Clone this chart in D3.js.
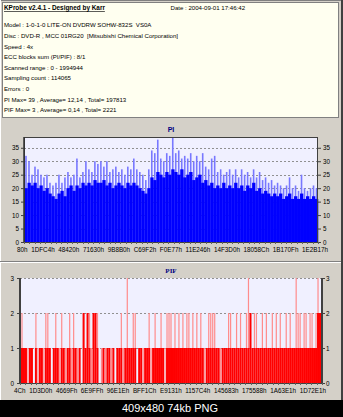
<!DOCTYPE html>
<html><head><meta charset="utf-8">
<script src="https://cdn.jsdelivr.net/npm/d3@7"></script>
<style>html,body{margin:0;padding:0;background:#000;overflow:hidden}svg{display:block}text{white-space:pre}</style>
</head><body>
<svg id="c" width="343" height="417"></svg>
<script>
// ---------------- DATA ----------------
const infoTitle = "KProbe v2.4.1 - Designed by Karr";
const infoDate = "Date : 2004-09-01 17:46:42";
const infoLines = [
  "Model : 1-0-1-0 LITE-ON DVDRW SOHW-832S  VS0A",
  "Disc : DVD-R , MCC 01RG20  [Mitsubishi Chemical Corporation]",
  "Speed : 4x",
  "ECC blocks sum (PI/PIF) : 8/1",
  "Scanned range : 0 - 1994944",
  "Sampling count : 114065",
  "Errors : 0",
  "PI Max= 39 , Average= 12,14 , Total= 197813",
  "PIF Max= 3 , Average= 0,14 , Total= 2221"
];
const caption = "409x480 74kb PNG";

const piTicks = [0, 5, 10, 15, 20, 25, 30, 35];
const piXLabels = ["80h","1DFC4h","48420h","71630h","9B8B0h","C69F2h","F0E77h","11E246h","14F3D0h","18058Ch","1B170Fh","1E2B17h"];
const piBase = [20,22,21,22,20,21,19,20,18,17,16,18,19,17,20,21,19,21,20,22,
                21,22,21,23,22,22,23,21,22,20,21,22,21,20,22,21,22,21,20,19,
                18,20,24,23,26,25,24,26,25,27,26,25,27,24,25,26,23,24,25,22,
                23,21,22,20,21,20,22,20,21,20,22,20,21,19,21,20,22,19,20,18,
                19,18,17,18,17,18,16,17,18,16,17,16,18,16,17,16,17,16];
const piPeak = [32,30,25,28,27,25,24,25,22,21,22,25,22,24,26,24,25,31,24,26,
                30,27,26,30,29,30,28,30,26,27,28,26,27,25,28,27,31,27,26,25,
                23,27,34,33,38,31,30,33,32,39,33,34,31,32,31,33,30,32,30,33,
                28,27,31,32,26,27,25,26,27,25,27,24,27,25,26,24,27,24,26,23,
                24,22,23,21,22,21,20,21,24,20,21,19,25,20,19,20,21,20];

const pifTicks = [0, 1, 2, 3];
const pifXLabels = ["4Ch","1D3D0h","4669Fh","6E9FFh","96E1Eh","BFF1Ch","E9131h","1157C4h","145683h","175588h","1A63E1h","1D72E1h"];
const pifBase = [1,1,1,0,1,1,0,1,0,1,1,0,1,1,1,0,1,1,1,0,
                 1,1,0,1,1,0,1,1,0,1,0,2,1,2,1,0,2,2,1,0,
                 0,1,0,1,1,0,1,0,1,1,1,0,1,1,1,1,1,1,0,1,
                 1,0,1,1,1,0,1,1,1,1,1,1,0,1,1,1,1,1,1,1,
                 1,1,1,1,1,1,1,1,1,1,1,1,0,1,1,1,1,1,1,1,
                 0,1,1,1,1,1,1,1,1,1,1,1,1,1,1,2,1,1,1,1,
                 1,1,1,1,1,1,1,1,1,1,1,1,1,1,1,1,1,1,1,1,
                 1,1,1,1,1,1,1,1,1,2,2];
const pifPeak = [2,1,1,1,1,1,0,2,1,1,1,1,2,2,1,0,1,2,1,1,
                 2,1,1,1,2,1,2,1,1,1,0,2,1,2,2,1,2,2,2,0,
                 1,1,1,1,1,1,1,0,1,1,2,1,1,3,1,1,2,2,0,1,
                 1,1,1,1,2,1,1,2,1,1,2,1,1,2,2,2,1,2,1,2,
                 1,2,1,2,2,1,2,1,2,1,2,1,1,1,2,2,2,2,1,1,
                 1,1,1,1,2,2,1,1,2,1,2,1,1,2,3,2,1,2,2,1,
                 1,2,1,2,1,1,2,1,2,1,2,1,1,2,1,2,1,1,3,2,
                 2,1,2,2,1,2,2,1,2,3,2];

// ---------------- LAYOUT ----------------
const W = 343, H = 417;
const font = "'Liberation Sans', Arial, sans-serif";
const svg = d3.select("#c");

// backgrounds
svg.append("rect").attr("x",0).attr("y",0).attr("width",W).attr("height",H).attr("fill","#000");
svg.append("rect").attr("x",0).attr("y",0).attr("width",341).attr("height",400).attr("fill","#D4D0C8");
svg.append("line").attr("x1",0).attr("x2",341).attr("y1",0.5).attr("y2",0.5).attr("stroke","#808080");
svg.append("line").attr("x1",0.5).attr("x2",0.5).attr("y1",0).attr("y2",400).attr("stroke","#FFFFFF");
svg.append("rect").attr("x",341).attr("y",0).attr("width",2).attr("height",400).attr("fill","#404040");

// info box
svg.append("rect").attr("x",2.5).attr("y",2.5).attr("width",336).attr("height",115)
  .attr("fill","#FFFFF0").attr("stroke","#808080");
svg.append("text").text(infoTitle).attr("x",4).attr("y",10.3)
  .attr("font-family",font).attr("font-size",6.4).attr("font-weight","bold")
  .attr("text-decoration","underline").attr("fill","#000");
svg.append("text").text(infoDate).attr("x",170.5).attr("y",10.3)
  .attr("font-family",font).attr("font-size",6.1).attr("fill","#000");
svg.selectAll("text.info").data(infoLines).join("text").attr("class","info")
  .text(d=>d).attr("x",4).attr("y",(d,i)=>27.3+i*10.6)
  .attr("font-family",font).attr("font-size",6.1).attr("fill","#000");

// separator
svg.append("line").attr("x1",0).attr("x2",341).attr("y1",261.5).attr("y2",261.5).attr("stroke","#808080");
svg.append("line").attr("x1",0).attr("x2",341).attr("y1",262.5).attr("y2",262.5).attr("stroke","#FFFFFF");

// caption
svg.append("text").text(caption).attr("x",170).attr("y",412).attr("text-anchor","middle")
  .attr("font-family",font).attr("font-size",11).attr("fill","#FFFFFF");

function styleAxis(g){
  g.select(".domain").remove();
  g.selectAll(".tick line").attr("stroke","#404040");
  g.selectAll(".tick text").attr("font-family",font).attr("font-size",6.3).attr("fill","#000");
}
// x labels laid out in a row with equal gaps between x0 and x1
function labelRow(g, labels, x0, x1, yy){
  const t = g.selectAll("text.xl").data(labels).join("text").attr("class","xl")
    .text(d=>d).attr("y",yy).attr("font-family",font).attr("font-size",6.3).attr("fill","#000");
  const w = t.nodes().map(n=>n.getComputedTextLength());
  const gap = (x1 - x0 - d3.sum(w)) / (labels.length - 1);
  let cx = x0;
  t.attr("x",(d,i)=>{ const v = cx; cx += w[i] + gap; return v; });
}

// ---------------- PI CHART ----------------
{
  const L = 24, R = 318, T = 137, B = 242;
  const x = d3.scaleLinear().domain([0, piBase.length]).range([L + 0.5, R]);
  const y = d3.scaleLinear().domain([0, 39]).range([B, T]);
  const g = svg.append("g");
  g.append("rect").attr("x",L).attr("y",T).attr("width",R-L).attr("height",B-T).attr("fill","#F0F0FF");
  g.selectAll("line.grid").data(piTicks.filter(v=>v>0)).join("line").attr("class","grid")
    .attr("x1",L).attr("x2",R).attr("y1",d=>Math.round(y(d))+0.5).attr("y2",d=>Math.round(y(d))+0.5)
    .attr("stroke","#909090").attr("stroke-dasharray","2,2");
  const step = x(1) - x(0);
  g.selectAll("rect.pk").data(piPeak).join("rect").attr("class","pk")
    .attr("x",(d,i)=>x(i)+step/2-0.8).attr("width",1.6)
    .attr("y",d=>y(d)).attr("height",d=>B-y(d)).attr("fill","#7878FF");
  g.selectAll("rect.bs").data(piBase).join("rect").attr("class","bs")
    .attr("x",(d,i)=>x(i)).attr("width",step+0.3)
    .attr("y",d=>y(d)).attr("height",d=>B-y(d)).attr("fill","#0000FF");
  g.append("rect").attr("x",L+0.5).attr("y",T+0.5).attr("width",R-L-1).attr("height",B-T)
    .attr("fill","none").attr("stroke","#404040");
  g.append("line").attr("x1",L).attr("x2",L).attr("y1",T).attr("y2",B+1).attr("stroke","#303030").attr("stroke-width",1.5);
  g.append("g").attr("transform",`translate(${L},0)`)
    .call(d3.axisLeft(y).tickValues(piTicks).tickFormat(d3.format("d")).tickSize(3).tickPadding(2)).call(styleAxis);
  g.append("g").attr("transform",`translate(${R},0)`)
    .call(d3.axisRight(y).tickValues(piTicks).tickFormat(d3.format("d")).tickSize(3).tickPadding(2)).call(styleAxis);
  const mt = d3.range(0, 56).map(k => L + k*(R-L)/55);
  g.selectAll("line.mt").data(mt).join("line").attr("class","mt")
    .attr("x1",d=>Math.round(d)+0.5).attr("x2",d=>Math.round(d)+0.5).attr("y1",B).attr("y2",B+2).attr("stroke","#606060");
  labelRow(g, piXLabels, 17, 328, 251.8);
  g.append("text").text("PI").attr("x",171).attr("y",132.3).attr("text-anchor","middle")
    .attr("font-family",font).attr("font-size",7).attr("font-weight","bold").attr("fill","#000080");
}

// ---------------- PIF CHART ----------------
{
  const L = 20, R = 322, T = 278, B = 383;
  const x = d3.scaleLinear().domain([0, pifBase.length]).range([L + 1, R - 1]);
  const y = d3.scaleLinear().domain([0, 3]).range([B, T]);
  const g = svg.append("g");
  g.append("rect").attr("x",L).attr("y",T).attr("width",R-L).attr("height",B-T).attr("fill","#F0F0FF");
  g.selectAll("line.grid").data(pifTicks.filter(v=>v>0)).join("line").attr("class","grid")
    .attr("x1",L).attr("x2",R).attr("y1",d=>Math.round(y(d))+0.5).attr("y2",d=>Math.round(y(d))+0.5)
    .attr("stroke","#909090").attr("stroke-dasharray","2,2");
  const step = x(1) - x(0);
  g.selectAll("rect.pk").data(pifPeak).join("rect").attr("class","pk")
    .attr("x",(d,i)=>x(i)+step/2-0.6).attr("width",1.2)
    .attr("y",d=>y(d)).attr("height",d=>B-y(d)).attr("fill","#FF8C8C");
  g.selectAll("rect.bs").data(pifBase).join("rect").attr("class","bs")
    .attr("x",(d,i)=>x(i)).attr("width",step)
    .attr("y",d=>y(d)).attr("height",d=>B-y(d)).attr("fill","#FF0000");
  g.append("line").attr("x1",L).attr("x2",R).attr("y1",B+0.5).attr("y2",B+0.5).attr("stroke","#404040");
  g.append("line").attr("x1",L).attr("x2",L).attr("y1",T).attr("y2",B+1).attr("stroke","#404040").attr("stroke-width",2);
  g.append("line").attr("x1",R).attr("x2",R).attr("y1",T).attr("y2",B+1).attr("stroke","#404040").attr("stroke-width",2);
  g.append("g").attr("transform",`translate(${L-1},0)`)
    .call(d3.axisLeft(y).tickValues(pifTicks).tickFormat(d3.format("d")).tickSize(2).tickPadding(3)).call(styleAxis);
  g.append("g").attr("transform",`translate(${R+1},0)`)
    .call(d3.axisRight(y).tickValues(pifTicks).tickFormat(d3.format("d")).tickSize(2).tickPadding(1)).call(styleAxis);
  const mt = d3.range(0, 56).map(k => L + k*(R-L)/55);
  g.selectAll("line.mt").data(mt).join("line").attr("class","mt")
    .attr("x1",d=>Math.round(d)+0.5).attr("x2",d=>Math.round(d)+0.5).attr("y1",B).attr("y2",B+2).attr("stroke","#606060");
  labelRow(g, pifXLabels, 14, 326, 393);
  g.append("text").text("PIF").attr("x",171).attr("y",273).attr("text-anchor","middle")
    .attr("font-family","'Liberation Serif', serif").attr("font-size",7).attr("font-weight","bold").attr("fill","#000080");
}
</script>
</body></html>
